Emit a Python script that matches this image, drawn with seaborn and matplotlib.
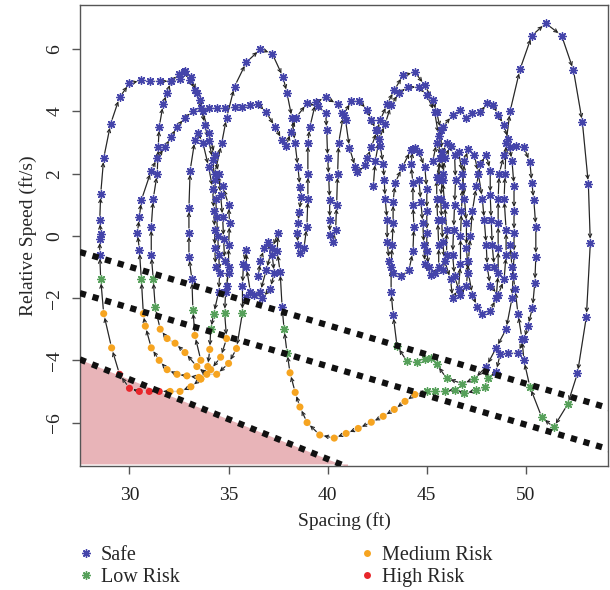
import numpy as np
import pandas as pd
import matplotlib
matplotlib.use("Agg")
import matplotlib.pyplot as plt
import seaborn as sns
from matplotlib.lines import Line2D

# ticks
x_ticks = [30, 35, 40, 45, 50]
y_ticks = [-6, -4, -2, 0, 2, 4, 6]

# risk threshold lines (spacing, relative speed)
line_x = [27.5, 54.2]
line_low_y = [-0.52, -5.54]
line_med_y = [-1.84, -6.86]
line_high_x = [27.5, 41.0]
line_high_y = [-3.97, -7.43]

# trajectory pieces (spacing ft, relative speed ft/s), in time order
seg_outer_left = [
    (33.6, -4.6), (33.1, -4.85), (32.55, -5.0), (32.05, -5.0), (31.5, -5.0), (31.0, -5.0),
    (30.5, -5.0), (30.0, -4.9), (29.5, -4.45), (29.1, -3.6), (28.7, -2.5), (28.55, -1.4),
    (28.5, -0.6), (28.5, -0.1), (28.55, 0.05), (28.5, 0.5), (28.55, 1.35), (28.7, 2.5),
    (29.05, 3.6), (29.5, 4.45), (30.0, 4.9), (30.6, 5.0), (31.05, 4.97), (31.55, 4.97),
    (32.1, 4.97), (32.55, 5.03), (32.75, 5.26), (33.05, 5.0), (33.3, 4.68), (33.55, 4.36),
    (33.8, 3.56), (34.0, 3.05), (34.2, 2.45), (34.3, 1.8), (34.35, 1.2), (34.4, 0.6),
    (34.45, 0.0), (34.5, -0.6), (34.55, -1.2), (34.5, -1.8), (34.25, -2.5), (34.1, -3.0),
    (34.05, -3.65), (33.95, -4.2), (33.6, -4.6),
]
seg_inner_left = [
    (35.0, -1.2), (34.85, -1.8), (34.8, -2.47), (34.9, -3.3), (34.6, -3.9), (34.1, -4.3),
    (33.5, -4.55), (32.9, -4.5), (32.4, -4.45), (31.9, -4.3), (31.5, -4.0), (31.1, -3.6),
    (30.8, -2.9), (30.7, -2.5), (30.6, -1.4), (30.5, -0.45), (30.4, 0.1), (30.5, 0.6),
    (30.6, 1.15), (31.1, 2.1), (31.4, 2.5), (31.8, 2.86), (32.1, 3.17), (32.4, 3.5),
    (32.8, 3.8), (33.2, 4.0), (33.6, 4.1), (34.0, 4.1), (34.4, 4.1), (34.8, 4.1),
    (35.3, 4.13), (35.7, 4.13), (36.1, 4.2), (36.5, 4.23), (36.9, 3.97), (37.35, 3.5),
    (37.7, 3.08), (37.9, 2.88), (38.15, 3.35), (38.4, 3.8), (38.96, 4.26), (39.5, 4.17),
    (39.9, 3.94), (39.95, 3.4), (40.0, 2.5), (40.05, 1.9), (40.1, 1.15), (40.1, 0.5),
    (40.1, 0.03), (40.25, -0.2), (40.4, 0.2), (40.45, 1.0), (40.5, 2.0), (40.55, 2.98),
    (40.8, 3.9), (41.2, 4.33), (41.6, 4.33), (42.0, 4.04), (42.2, 3.72), (42.45, 3.4),
    (42.65, 2.9), (42.8, 2.3), (42.85, 1.8), (42.9, 1.2), (43.0, 0.5), (43.0, -0.2),
    (43.1, -0.8), (43.3, -1.2), (43.7, -1.3), (44.1, -1.1), (44.3, -0.5), (44.35, 0.3),
    (44.3, 1.0), (44.3, 1.7), (44.2, 2.3), (44.3, 2.8), (44.6, 2.7), (44.9, 2.2),
    (45.0, 1.5), (45.0, 0.8), (45.0, 0.1), (45.0, -0.5), (45.1, -1.0), (45.4, -1.2),
    (45.8, -1.1), (46.0, -0.6), (46.0, 0.2), (45.9, 1.0), (45.8, 1.8), (45.9, 2.5),
    (46.2, 2.9), (46.6, 2.7), (46.8, 2.0), (46.9, 1.2), (47.0, 0.4), (47.0, -0.4),
    (47.1, -1.2), (47.3, -1.9), (47.55, -2.28), (47.8, -2.5), (48.2, -2.43), (48.5, -2.0),
    (48.6, -1.2), (48.6, -0.4), (48.6, 0.4), (48.6, 1.2), (48.65, 2.0), (48.9, 2.6),
    (49.2, 2.85), (49.5, 2.9), (49.9, 2.85), (50.2, 2.37), (50.3, 1.7), (50.4, 1.15),
    (50.5, 0.29), (50.5, -0.67), (50.45, -1.5), (50.33, -2.31), (50.1, -2.9), (49.9, -3.33),
    (49.6, -3.76), (49.1, -3.76), (48.7, -3.8), (48.5, -4.36), (48.1, -4.58), (47.95, -4.87),
    (47.5, -4.97), (46.9, -5.06), (46.4, -4.94), (45.9, -5.0), (45.4, -5.0), (45.0, -5.0),
    (44.4, -5.1), (43.9, -5.32), (43.36, -5.58), (42.8, -5.8), (42.2, -5.99), (41.54, -6.19),
    (40.93, -6.35), (40.33, -6.5), (39.6, -6.4), (38.96, -6.0), (38.6, -5.5), (38.36, -5.03),
    (38.1, -4.4), (37.95, -3.75), (37.8, -3.0), (37.7, -2.28), (37.6, -1.15), (37.45, -0.5),
    (37.5, 0.1), (37.2, -0.4), (36.9, -1.1), (36.6, -1.8), (36.1, -1.8), (35.9, -1.0),
    (35.9, -0.45), (35.75, -0.9), (35.7, -1.6), (35.7, -2.47), (35.4, -3.62), (35.0, -4.1),
    (34.4, -4.45), (33.9, -4.45), (33.4, -4.2), (32.8, -3.75), (32.3, -3.45), (31.9, -3.3),
    (31.55, -3.0), (31.3, -2.3), (31.2, -1.4), (31.1, -0.6), (31.1, 0.3), (31.2, 1.2),
    (31.4, 2.0), (31.45, 2.86), (31.5, 3.5), (31.7, 4.23), (31.9, 4.6), (32.1, 4.97),
    (32.5, 5.2), (32.8, 5.3), (33.1, 5.1), (33.4, 4.6), (33.7, 4.0), (34.0, 3.3),
    (34.3, 2.6), (34.5, 2.0), (34.6, 1.3), (34.7, 0.6), (34.75, -0.1), (34.8, -0.8),
]
seg_mid_leg = [
    (33.6, -4.0), (33.3, -3.2), (33.2, -2.37), (33.15, -1.4), (33.0, -0.67), (33.0, 0.1),
    (33.0, 0.9), (33.06, 2.1), (33.3, 3.08), (33.45, 3.3), (33.7, 3.0), (34.0, 2.2),
    (34.2, 1.5), (34.25, 0.8), (34.3, 0.2), (34.3, -0.4), (34.35, -1.0),
]
seg_arch6 = [
    (34.9, -1.6), (35.0, -1.0), (35.0, -0.3), (35.05, 0.4), (35.0, 1.0), (34.7, 1.6),
    (34.3, 2.0), (34.65, 2.97), (34.9, 3.8), (35.3, 4.8), (35.9, 5.58), (36.6, 6.0),
    (37.2, 5.86), (37.75, 5.1), (37.95, 4.58), (38.2, 3.78), (38.35, 3.0), (38.5, 2.2),
    (38.6, 1.57), (38.66, 1.25), (38.56, 0.77), (38.5, 0.41), (38.46, 0.1), (38.5, -0.3),
    (38.6, -0.55), (38.8, -0.4), (38.95, 0.3), (39.0, 1.2), (39.0, 2.0), (39.0, 3.0),
    (39.1, 3.5), (39.4, 4.3), (39.9, 4.45), (40.5, 4.23), (40.7, 3.94), (40.9, 3.72),
    (41.1, 2.82), (41.4, 2.2), (41.5, 2.05), (41.9, 2.28), (42.0, 2.5), (42.2, 2.85),
    (42.5, 3.4), (42.65, 3.72), (43.0, 4.23), (43.36, 4.68), (43.8, 5.16), (44.4, 5.26),
    (44.9, 4.84), (45.3, 4.36), (45.5, 3.97), (45.7, 3.4), (45.75, 2.7), (45.8, 2.0),
    (45.7, 1.2), (45.75, 0.5), (45.8, -0.2), (45.9, -0.8), (46.2, -1.4), (46.3, -2.0),
    (46.6, -1.7), (46.7, -0.9), (46.7, 0.0), (46.75, 0.8), (46.8, 1.6), (46.9, 2.4),
    (47.1, 2.8), (47.4, 2.6), (47.6, 2.0), (47.8, 1.2), (47.9, 0.5), (48.0, -0.3),
    (48.05, -1.0), (48.2, -1.6), (48.6, -1.9), (48.9, -1.4), (49.0, -0.6), (49.0, 0.2),
    (48.9, 1.2), (48.95, 2.0), (49.0, 3.0), (49.2, 4.0), (49.7, 5.35), (50.3, 6.44),
    (51.0, 6.83), (51.8, 6.44), (52.4, 5.32), (52.85, 3.65), (53.15, 1.67), (53.25, -0.22),
    (53.05, -2.6), (52.6, -4.42), (52.1, -5.42), (51.4, -6.15), (50.8, -5.83), (50.2, -4.85),
    (49.9, -4.0), (49.8, -3.3), (49.6, -2.5), (49.45, -1.7), (49.3, -1.0), (49.2, -0.3),
]
seg_right_top = [
    (45.3, 2.4), (45.5, 3.0), (45.8, 3.5), (46.3, 3.88), (46.7, 4.04), (47.0, 3.8),
    (47.3, 3.94), (47.7, 3.97), (48.05, 4.26), (48.36, 4.2), (48.6, 3.88), (48.9, 3.56),
    (49.1, 3.1), (49.3, 2.4), (49.4, 1.6), (49.4, 0.8), (49.4, 0.1), (49.4, -0.6),
    (49.35, -1.3), (49.3, -2.0), (49.0, -3.0), (48.5, -3.6), (48.0, -4.2), (47.4, -4.6),
    (46.8, -4.75), (46.0, -4.58), (45.5, -4.13), (45.2, -3.92), (44.9, -3.95), (44.5, -4.05),
    (44.0, -4.03), (43.5, -3.55), (43.3, -2.53), (43.2, -1.8), (43.2, -1.0), (43.25, -0.3),
    (43.3, 0.4), (43.3, 1.1), (43.4, 1.7), (43.76, 2.2), (44.2, 2.76), (44.4, 2.82),
]
seg_inner_arch = [
    (42.3, 1.6), (42.4, 2.4), (42.6, 3.1), (42.9, 3.6), (43.2, 4.2), (43.6, 4.6),
    (44.05, 4.78), (44.6, 4.78), (45.0, 4.52), (45.4, 3.97), (45.6, 3.2), (45.65, 2.5),
    (45.6, 1.8),
]
seg_cluster = [
    (44.6, 1.8), (44.7, 1.1), (44.8, 0.4), (44.85, -0.3), (44.9, -0.9), (45.2, -1.25),
    (45.6, -1.0), (45.6, -0.3), (45.55, 0.5), (45.5, 1.2), (45.5, 1.9), (45.7, 2.5),
    (46.0, 2.98), (46.4, 2.6), (46.45, 1.8), (46.4, 1.0), (46.35, 0.2), (46.3, -0.6),
    (46.4, -1.3), (46.7, -1.9), (47.0, -1.6), (47.1, -0.8), (47.2, 0.0), (47.3, 0.8),
    (47.5, 1.6), (47.7, 2.3), (48.0, 2.6), (48.2, 2.1), (48.2, 1.3), (48.25, 0.5),
    (48.3, -0.3), (48.4, -1.0),
]
seg_small = [
    (36.5, -1.3), (36.6, -0.8), (36.8, -0.4), (37.0, -0.2), (37.2, -0.6), (37.3, -1.2),
    (37.1, -1.7), (36.7, -2.0), (36.3, -1.9), (35.9, -1.95),
]

segments = [seg_outer_left, seg_inner_left, seg_mid_leg, seg_arch6,
            seg_right_top, seg_inner_arch, seg_cluster, seg_small]

risk_names = ["Safe", "Low Risk", "Medium Risk", "High Risk"]
risk_colors = {"Safe": "#4444aa", "Low Risk": "#56a05a",
               "Medium Risk": "#f6a420", "High Risk": "#e8262b"}
risk_markers = {"Safe": (8, 2, 0), "Low Risk": (8, 2, 0),
                "Medium Risk": "o", "High Risk": "o"}

rows = []
for k, seg in enumerate(segments):
    for x, y in seg:
        rows.append((k, x, y))
df = pd.DataFrame(rows, columns=["seg", "spacing", "speed"])

# zone of each point, from the three dotted lines
l1 = np.interp(df["spacing"], line_x, line_low_y)
l2 = np.interp(df["spacing"], line_x, line_med_y)
l3 = np.interp(df["spacing"], line_high_x, line_high_y)
df["risk"] = np.select([df["speed"] > l1, df["speed"] > l2, df["speed"] > l3 + 0.05],
                       risk_names[:3], risk_names[3])

sns.set_theme(style="ticks")
plt.rcParams["font.family"] = ["Liberation Serif", "DejaVu Serif"]
plt.rcParams["axes.unicode_minus"] = True

fig = plt.figure(figsize=(6.1, 5.9), dpi=100)
ax = fig.add_axes([0.131, 0.21, 0.866, 0.7815])
ax.set_xlim(27.5, 54.15)
ax.set_ylim(-7.4, 7.42)

# high risk area
ax.fill_between(line_high_x, line_high_y, -7.33, color="#e8b4b8", lw=0, zorder=1)

# trajectory line and direction arrows
for seg in segments:
    xs = [p[0] for p in seg]
    ys = [p[1] for p in seg]
    ax.plot(xs, ys, color="#d2d2d2", lw=1.0, zorder=2)

fig.canvas.draw()
for seg in segments:
    pts = ax.transData.transform(seg)
    for i in range(len(seg) - 1):
        if np.hypot(*(pts[i + 1] - pts[i])) < 10:
            continue
        ax.annotate("", xy=seg[i + 1], xytext=seg[i],
                    arrowprops=dict(arrowstyle="->", color="#222222", lw=0.8,
                                    shrinkA=3.5, shrinkB=3.0, mutation_scale=6),
                    zorder=3)

for name in risk_names:
    sub = df[df["risk"] == name]
    if len(sub) == 0:
        continue
    if risk_markers[name] == "o":
        sns.scatterplot(data=sub, x="spacing", y="speed", marker="o", s=26,
                        color=risk_colors[name], edgecolor="none", ax=ax,
                        zorder=4, legend=False)
    else:
        sns.scatterplot(data=sub, x="spacing", y="speed", marker=risk_markers[name],
                        s=30, color=risk_colors[name], linewidth=1.0, ax=ax,
                        zorder=4, legend=False)

# dotted threshold lines
for lx, ly in [(line_x, line_low_y), (line_x, line_med_y), (line_high_x, line_high_y)]:
    ax.plot(lx, ly, color="#111111", lw=4.5, linestyle=(0, (1, 1.1)),
            dash_capstyle="butt", zorder=5)

ax.set_xticks(x_ticks)
ax.set_yticks(y_ticks)
ax.set_xlabel("Spacing (ft)", fontsize=14, labelpad=6)
ax.set_ylabel("Relative Speed (ft/s)", fontsize=14, labelpad=7)
ax.tick_params(axis="x", direction="out", length=6, width=1, color="#555555",
               labelsize=14, pad=9, labelcolor="#222222")
ax.tick_params(axis="y", direction="out", length=6, width=1, color="#555555",
               labelsize=14, pad=6, labelcolor="#222222", labelrotation=90)
for t in ax.get_yticklabels():
    t.set_va("center")
for s in ax.spines.values():
    s.set_visible(True)
    s.set_color("#555555")
    s.set_linewidth(1.0)

handles = [Line2D([], [], linestyle="none", marker=risk_markers[n], color=risk_colors[n],
                  markersize=6 if n in ("Safe", "Low Risk") else 5,
                  markeredgewidth=1.0 if n in ("Safe", "Low Risk") else 0)
           for n in risk_names]
fig.legend(handles, risk_names, loc="upper left", bbox_to_anchor=(0.127, 1 - 546 / 590),
           ncol=2, frameon=False, fontsize=14.5, handlelength=0.8, handletextpad=0.35,
           columnspacing=8.9, labelspacing=0.12, borderpad=0, borderaxespad=0)

fig.savefig("out.png", dpi=100)
